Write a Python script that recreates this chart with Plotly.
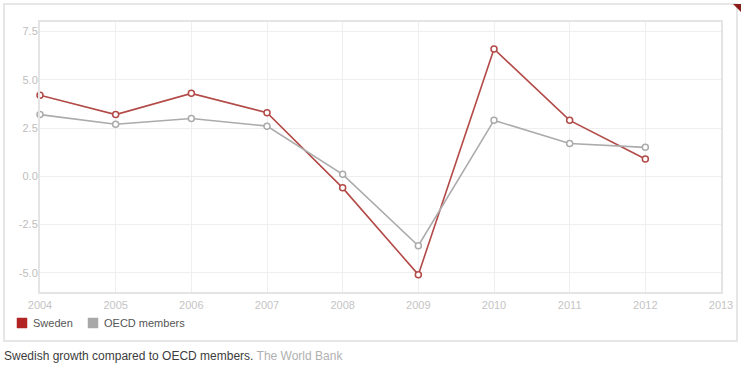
import plotly.graph_objects as go

# ---- data ----
years = [2004, 2005, 2006, 2007, 2008, 2009, 2010, 2011, 2012]
sweden = [4.2, 3.2, 4.3, 3.3, -0.6, -5.1, 6.6, 2.9, 0.9]
oecd = [3.2, 2.7, 3.0, 2.6, 0.1, -3.6, 2.9, 1.7, 1.5]
series_names = ["Sweden", "OECD members"]
y_tick_vals = [-5.0, -2.5, 0.0, 2.5, 5.0, 7.5]
y_tick_text = ["-5.0", "-2.5", "0.0", "2.5", "5.0", "7.5"]
x_tick_vals = [2004, 2005, 2006, 2007, 2008, 2009, 2010, 2011, 2012, 2013]
caption_main = "Swedish growth compared to OECD members."
caption_source = "The World Bank"

# ---- style ----
line_colors = ["#b24a47", "#ababab"]
legend_colors = ["#b22424", "#a8a8a8"]
FONT = "Liberation Sans, Arial, Helvetica, sans-serif"

W, H = 745, 374
L, R, T, B = 40, 24, 22, 82
PW, PH = W - L - R, H - T - B


def px(x):
    return (x - L) / PW


def py(y):
    return (H - B - y) / PH


fig = go.Figure()
for name, vals, col in zip(series_names, [sweden, oecd], line_colors):
    fig.add_trace(go.Scatter(
        x=years, y=vals, name=name, mode="lines+markers",
        line=dict(color=col, width=1.6),
        marker=dict(symbol="circle", size=6, color="white",
                    line=dict(color=col, width=1.5)),
        cliponaxis=False, showlegend=False,
    ))

shapes = [
    # outer frame
    dict(type="rect", xref="paper", yref="paper", x0=px(4), x1=px(737),
         y0=py(4), y1=py(341), line=dict(color="#e6e6e6", width=2),
         fillcolor="rgba(0,0,0,0)", layer="below"),
    # corner triangle
    dict(type="path", xref="paper", yref="paper",
         path=f"M {px(733)},{py(4)} L {px(741)},{py(4)} L {px(741)},{py(12)} Z",
         fillcolor="#8b1c1c", line=dict(width=0)),
]
annotations = []
leg_x = [17, 88]
for i, (name, col) in enumerate(zip(series_names, legend_colors)):
    x0 = leg_x[i]
    shapes.append(dict(type="rect", xref="paper", yref="paper",
                       x0=px(x0), x1=px(x0 + 10), y0=py(318), y1=py(328),
                       fillcolor=col, line=dict(color=col, width=0.5)))
    annotations.append(dict(xref="paper", yref="paper", x=px(x0 + 14), y=py(323),
                            xanchor="left", yanchor="middle", showarrow=False,
                            text=name, font=dict(size=11, color="#555555", family=FONT)))

annotations.append(dict(
    xref="paper", yref="paper", x=px(2), y=py(356), xanchor="left", yanchor="middle",
    showarrow=False,
    text=f"<span style='color:#3c3c3c'>{caption_main}</span> "
         f"<span style='color:#b0b0b0'>{caption_source}</span>",
    font=dict(size=12, family=FONT)))

fig.update_layout(
    width=W, height=H,
    margin=dict(l=L, r=R, t=T, b=B, pad=0),
    paper_bgcolor="white", plot_bgcolor="white",
    font=dict(family=FONT),
    shapes=shapes, annotations=annotations,
    xaxis=dict(range=[2004, 2013], tickvals=x_tick_vals, showgrid=True,
               gridcolor="#efefef", gridwidth=1, zeroline=False,
               showline=True, linecolor="#e4e4e4", linewidth=2, mirror=True,
               ticks="", automargin=False, ticklabelstandoff=2,
               tickfont=dict(size=11, color="#c4c4c4")),
    yaxis=dict(range=[-6, 8], tickvals=y_tick_vals, ticktext=y_tick_text,
               showgrid=True, gridcolor="#efefef", gridwidth=1, zeroline=False,
               showline=True, linecolor="#e4e4e4", linewidth=2, mirror=True,
               ticks="", ticklabelstandoff=-2, automargin=False,
               tickfont=dict(size=11, color="#bdbdbd")),
)

fig.write_html(
    "out.html",
    config={"displayModeBar": False},
    post_script="document.body.style.margin='0';document.body.style.overflow='hidden';",
)
